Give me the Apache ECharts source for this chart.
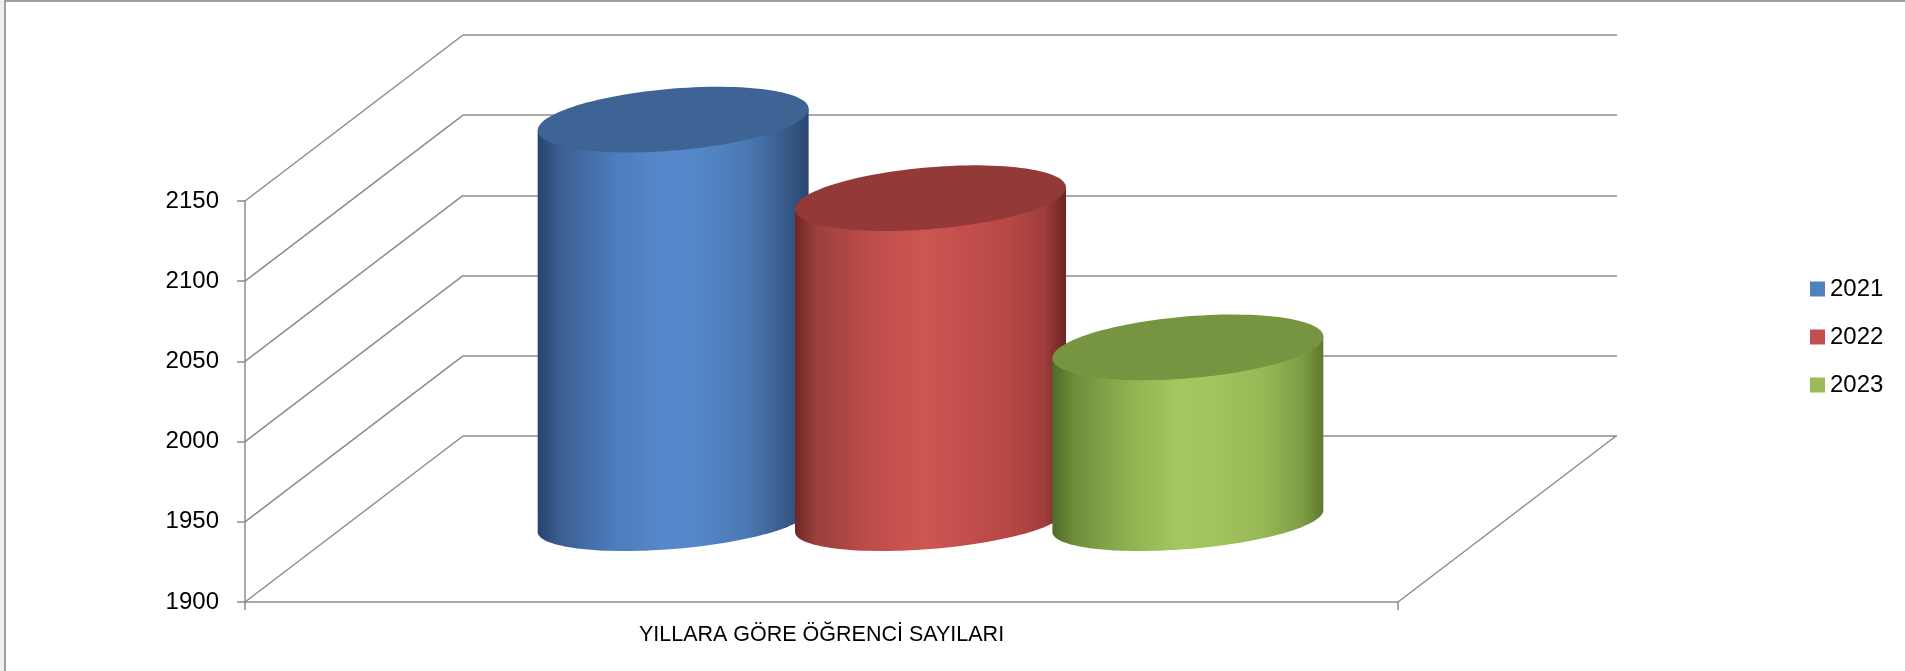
<!DOCTYPE html>
<html>
<head>
<meta charset="utf-8">
<title>Yıllara Göre Öğrenci Sayıları</title>
<script src="https://cdn.jsdelivr.net/npm/echarts@6/dist/echarts.min.js"></script>
<style>
  html, body { margin: 0; padding: 0; background: #fff; }
  #chart { width: 1905px; height: 671px; }
</style>
</head>
<body>
<div id="chart"></div>
<script>
// veriler
const categories = ['YILLARA GÖRE ÖĞRENCİ SAYILARI'];
const years = ['2021', '2022', '2023'];
const studentCounts = [2149, 2100, 2007];
const yTicks = [1900, 1950, 2000, 2050, 2100, 2150];

// stil
const FONT = 'Liberation Sans';
const lineColor = '#8c8c8c';
const DEPTH = [218, -166];   // on duzlemden arka duvara kayma
const SHEAR = -0.08;         // elipslerin egimi
const baseColors = ['#4f81bd', '#c0504d', '#9bbb59'];
const topColors = ['#3d6494', '#933a39', '#779440'];
const bodyStops = [
  ['#27446c', '#3a5e90', '#4b7cbb', '#5689cc', '#5487c8', '#4a78b2', '#375a88', '#2a4670'],
  ['#6d2624', '#9a403d', '#bf4d4a', '#cc5652', '#c5504d', '#b74845', '#a03f3d', '#6a2322'],
  ['#4f6a26', '#6f8d3a', '#8fb150', '#a5c75f', '#a2c35e', '#97b855', '#7f9d44', '#5e7a2d']
];
const stopPos = [0, 0.08, 0.28, 0.47, 0.6, 0.78, 0.92, 1];

function ellipsePoint(cx, cy, a, b, t) {
  return [cx + a * Math.cos(t), cy + b * Math.sin(t) + SHEAR * a * Math.cos(t)];
}

function cylinderSeries(i) {
  return {
    name: years[i],
    type: 'custom',
    xAxisIndex: 0,
    yAxisIndex: 0,
    clip: false,
    silent: true,
    itemStyle: { color: baseColors[i] },
    data: [[0, studentCounts[i]]],
    renderItem: function (params, api) {
      const top = api.coord([api.value(0), api.value(1)]);
      const base = api.coord([api.value(0), yTicks[0]]);
      const band = api.size([1, 0])[0];
      const a = 0.1175 * band;
      const cx = top[0] + DEPTH[0] / 2 + (i - 1) * 0.2232 * band;
      const topY = top[1] + DEPTH[1] / 2;
      const baseY = base[1] + DEPTH[1] / 2 + 2;
      const bTop = 31, bBase = 28;
      const n = 60;

      const body = [ellipsePoint(cx, topY, a, bTop, Math.PI)];
      for (let k = 0; k <= n; k++) {
        const t = Math.PI - (Math.PI * k) / n;
        body.push(ellipsePoint(cx, baseY, a, bBase, t));
      }
      body.push(ellipsePoint(cx, topY, a, bTop, 0));

      const cap = [];
      for (let k = 0; k < 2 * n; k++) {
        cap.push(ellipsePoint(cx, topY, a, bTop, (Math.PI * k) / n));
      }

      return {
        type: 'group',
        children: [
          {
            type: 'polygon',
            shape: { points: body },
            style: {
              fill: new echarts.graphic.LinearGradient(0, 0, 1, 0,
                bodyStops[i].map((c, k) => ({ offset: stopPos[k], color: c })))
            }
          },
          {
            type: 'polygon',
            shape: { points: cap },
            style: { fill: topColors[i] }
          }
        ]
      };
    }
  };
}

// derinlik cizgileri (sol duvar ve zemin)
const depthSeries = {
  type: 'custom',
  xAxisIndex: 0,
  yAxisIndex: 0,
  clip: false,
  silent: true,
  z: 1,
  data: yTicks.map(v => [0, v]),
  renderItem: function (params, api) {
    const p = api.coord([0, api.value(1)]);
    const cs = params.coordSys;
    const children = [{
      type: 'line',
      shape: { x1: cs.x, y1: p[1], x2: cs.x + DEPTH[0], y2: p[1] + DEPTH[1] },
      style: { stroke: lineColor, lineWidth: 1.5 }
    }];
    if (params.dataIndex === 0) {
      children.push({
        type: 'line',
        shape: { x1: cs.x + cs.width, y1: p[1], x2: cs.x + cs.width + DEPTH[0], y2: p[1] + DEPTH[1] },
        style: { stroke: lineColor, lineWidth: 1.5 }
      });
    }
    return { type: 'group', children: children };
  }
};

const chart = echarts.init(document.getElementById('chart'));
chart.setOption({
  animation: false,
  backgroundColor: '#fff',
  textStyle: { fontFamily: FONT },
  graphic: [
    { type: 'rect', shape: { x: 0, y: 0, width: 4, height: 671 }, style: { fill: '#f0f0f0' } },
    { type: 'line', shape: { x1: 5, y1: 0, x2: 5, y2: 671 }, style: { stroke: '#a0a0a0', lineWidth: 2 } },
    { type: 'line', shape: { x1: 4, y1: 1, x2: 1905, y2: 1 }, style: { stroke: '#a0a0a0', lineWidth: 2 } }
  ],
  legend: {
    data: years,
    orient: 'vertical',
    left: 1805,
    top: 272,
    icon: 'rect',
    itemWidth: 15,
    itemHeight: 15,
    itemGap: 24,
    selectedMode: false,
    textStyle: { fontSize: 24, lineHeight: 24, color: '#000', fontFamily: FONT }
  },
  grid: [
    { left: 245, top: 201, width: 1153, height: 401 },
    { left: 463, top: 35, width: 1154, height: 401 }
  ],
  xAxis: [
    {
      gridIndex: 0,
      type: 'category',
      data: categories,
      axisLine: { lineStyle: { color: lineColor, width: 1.5 } },
      axisTick: { show: true, length: 8, lineStyle: { color: lineColor, width: 1.5 } },
      axisLabel: { fontSize: 21.5, color: '#000', margin: 22, fontFamily: FONT }
    },
    { gridIndex: 1, type: 'category', data: categories, show: false }
  ],
  yAxis: [
    {
      gridIndex: 0,
      type: 'value',
      min: 1900,
      max: 2150,
      interval: 50,
      axisLine: { show: true, lineStyle: { color: lineColor, width: 1.5 } },
      axisTick: { show: true, length: 8, lineStyle: { color: lineColor, width: 1.5 } },
      splitLine: { show: false },
      axisLabel: {
        fontSize: 24, color: '#000', margin: 26, padding: [4, 0, 0, 0], fontFamily: FONT,
        formatter: v => String(v)
      }
    },
    {
      gridIndex: 1,
      type: 'value',
      min: 1900,
      max: 2150,
      interval: 50,
      axisLine: { show: false },
      axisTick: { show: false },
      axisLabel: { show: false },
      splitLine: { show: true, lineStyle: { color: lineColor, width: 1.5 } }
    }
  ],
  series: [depthSeries].concat(years.map((y, i) => cylinderSeries(i)))
});
</script>
</body>
</html>
